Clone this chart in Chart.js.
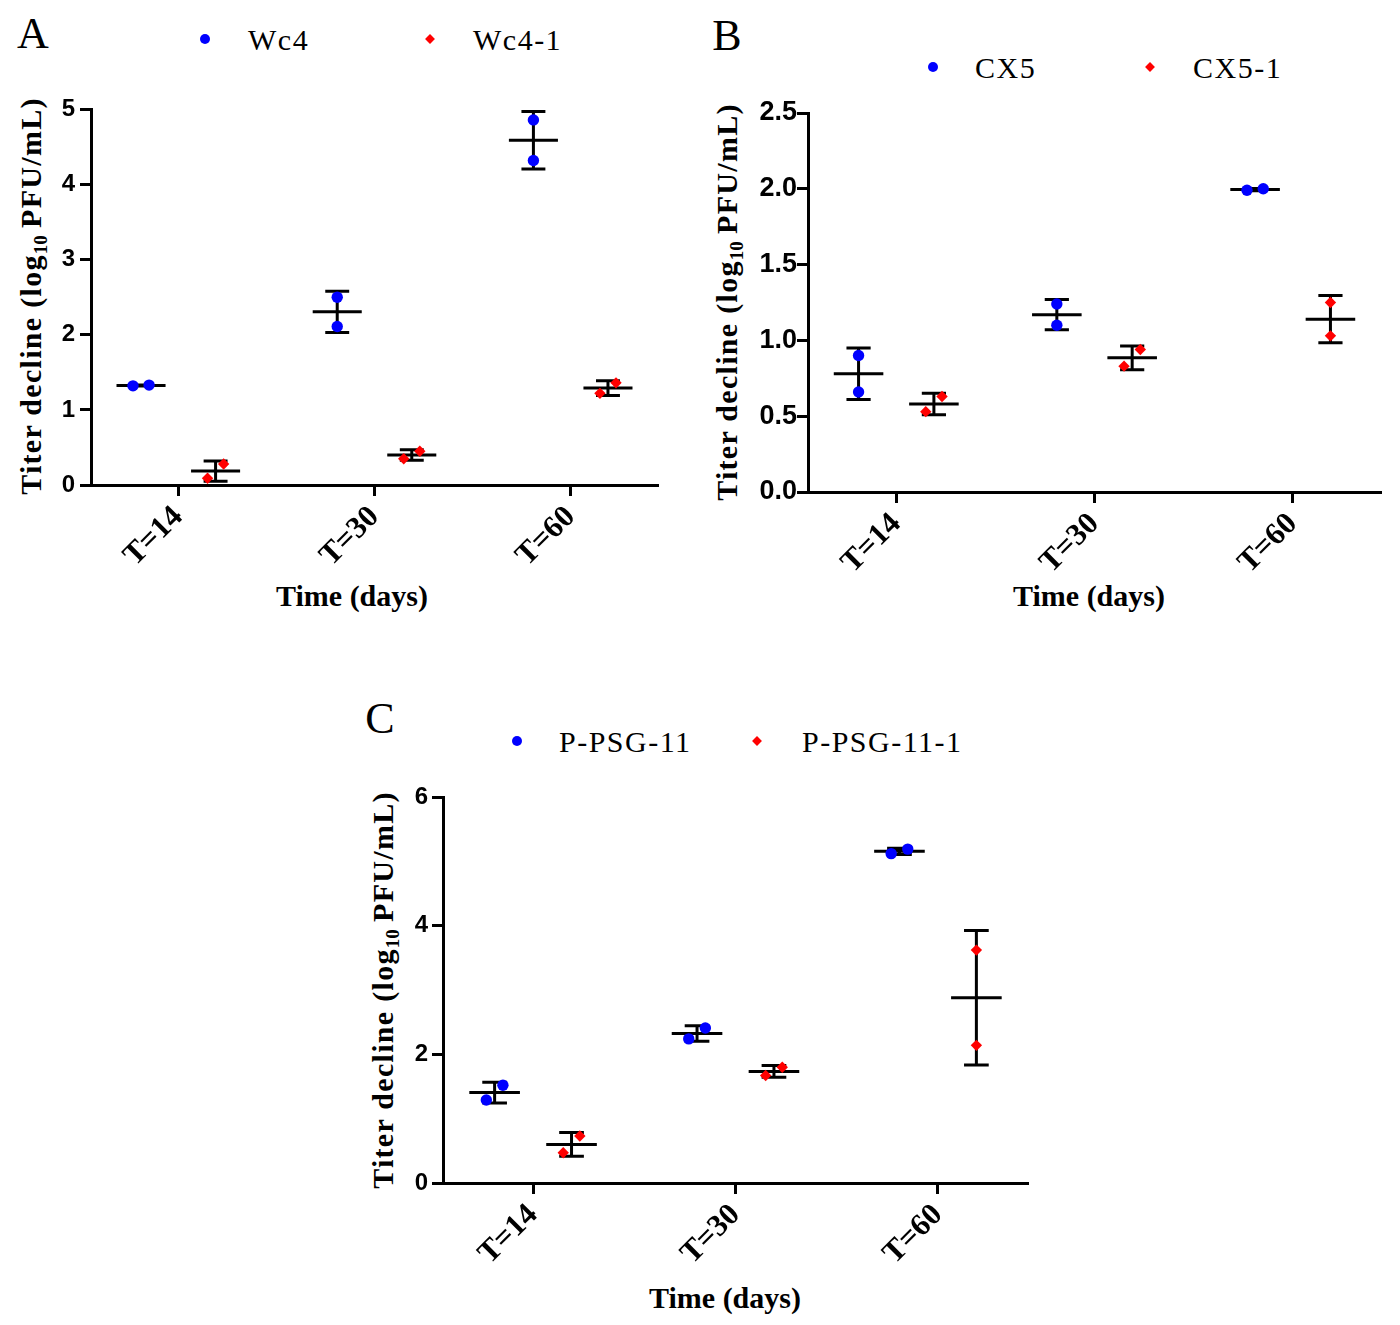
<!DOCTYPE html>
<html>
<head>
<meta charset="utf-8">
<script src="https://cdn.jsdelivr.net/npm/chart.js@4.4.1/dist/chart.umd.min.js"></script>
<style>
  body { margin: 0; background: #fff; }
  #page { position: relative; width: 1400px; height: 1325px; overflow: hidden;
          font-family: "Liberation Serif", "Times New Roman", serif; color: #000; }
  canvas { position: absolute; }
  .ctr { position: absolute; transform: translate(-50%, -50%); white-space: nowrap; line-height: 1; }
  .letter { font-size: 44px; }
  .leg { position: absolute; font-size: 30px; letter-spacing: 1.5px; white-space: nowrap;
         line-height: 1; transform: translateY(-50%); }
  .dot { position: absolute; width: 10px; height: 10px; border-radius: 50%; background: #0000ff;
         transform: translate(-50%, -50%); }
  .dia { position: absolute; width: 7px; height: 7px; background: #ff0000;
         transform: translate(-50%, -50%) rotate(45deg); }
  .ytitle { position: absolute; font-size: 30px; font-weight: bold; letter-spacing: 1.3px; white-space: nowrap;
            line-height: 1; transform: translate(-50%, -50%) rotate(-90deg); }
  .ytitle sub { font-size: 19px; vertical-align: -6px; line-height: 0; letter-spacing: 0; }
  .xtitle { font-size: 30px; font-weight: bold; }
</style>
</head>
<body>
<div id="page"></div>
<script>
// ---- data (two replicate titer declines per time point) ----
const categories = ["T=14", "T=30", "T=60"];

const namesA = ["Wc4", "Wc4-1"];
const wc4   = [[1.32, 1.33], [2.50, 2.11], [4.86, 4.32]];
const wc4_1 = [[0.09, 0.28], [0.35, 0.45], [1.22, 1.36]];
const yTicksA = [0, 1, 2, 3, 4, 5];

const namesB = ["CX5", "CX5-1"];
const cx5   = [[0.90, 0.66], [1.24, 1.10], [1.99, 2.00]];
const cx5_1 = [[0.53, 0.63], [0.83, 0.94], [1.25, 1.03]];
const yTicksB = [0, 0.5, 1, 1.5, 2, 2.5];

const namesC = ["P-PSG-11", "P-PSG-11-1"];
const ppsg11   = [[1.29, 1.52], [2.24, 2.41], [5.12, 5.19]];
const ppsg11_1 = [[0.47, 0.73], [1.67, 1.80], [3.62, 2.14]];
const yTicksC = [0, 2, 4, 6];

const BLUE = "#0000ff";
const RED = "#ff0000";

// group offsets around each time tick, in category units
const SHIFT = 0.19;
const JITTER = 0.041;
const MEAN_HALF = 0.125;
const CAP_HALF = 0.061;

const mean = v => v.reduce((a, b) => a + b, 0) / v.length;
const sd = v => {
  const m = mean(v);
  return Math.sqrt(v.reduce((a, b) => a + (b - m) * (b - m), 0) / (v.length - 1));
};

// scatter points; near-equal replicates are spread sideways like a dot plot
function buildPoints(reps, shift, yMax) {
  const pts = [];
  reps.forEach((vals, i) => {
    const s = [...vals].sort((a, b) => a - b);
    const close = s[s.length - 1] - s[0] < 0.05 * yMax;
    s.forEach((v, k) => {
      const j = close ? (k === 0 ? -JITTER : JITTER) : 0;
      pts.push({ x: i + shift + j, y: v });
    });
  });
  return pts;
}

// mean line + SD whiskers, drawn under the dots
function meanSdPlugin(groups) {
  return {
    id: "meanSd",
    beforeDatasetsDraw(chart) {
      const { ctx, scales: { x, y } } = chart;
      ctx.save();
      ctx.strokeStyle = "#000";
      ctx.lineWidth = 3;
      ctx.lineCap = "butt";
      groups.forEach(g => {
        g.reps.forEach((vals, i) => {
          const c = i + g.shift;
          const m = mean(vals), s = sd(vals);
          const yM = y.getPixelForValue(m);
          const yHi = y.getPixelForValue(m + s);
          const yLo = y.getPixelForValue(m - s);
          ctx.beginPath();
          ctx.moveTo(x.getPixelForValue(c - MEAN_HALF), yM);
          ctx.lineTo(x.getPixelForValue(c + MEAN_HALF), yM);
          ctx.moveTo(x.getPixelForValue(c), yHi);
          ctx.lineTo(x.getPixelForValue(c), yLo);
          ctx.moveTo(x.getPixelForValue(c - CAP_HALF), yHi);
          ctx.lineTo(x.getPixelForValue(c + CAP_HALF), yHi);
          ctx.moveTo(x.getPixelForValue(c - CAP_HALF), yLo);
          ctx.lineTo(x.getPixelForValue(c + CAP_HALF), yLo);
          ctx.stroke();
        });
      });
      ctx.restore();
    }
  };
}

const page = document.getElementById("page");

function addEl(cls, html, style) {
  const d = document.createElement("div");
  d.className = cls;
  d.innerHTML = html;
  Object.assign(d.style, style);
  page.appendChild(d);
  return d;
}

function makePanel(p) {
  // panel letter, legend and axis titles
  addEl("ctr letter", p.letter, { left: p.letterAt[0] + "px", top: p.letterAt[1] + "px" });
  addEl("dot", "", { left: p.legend[0].mark + "px", top: p.legendY + "px" });
  addEl("leg", p.names[0], { left: p.legend[0].text + "px", top: (p.legendY + 1) + "px" });
  addEl("dia", "", { left: p.legend[1].mark + "px", top: p.legendY + "px" });
  addEl("leg", p.names[1], { left: p.legend[1].text + "px", top: (p.legendY + 1) + "px" });
  addEl("ytitle", "Titer decline (log<sub>10</sub>&thinsp;PFU/mL)",
        { left: p.yTitleAt[0] + "px", top: p.yTitleAt[1] + "px" });
  addEl("ctr xtitle", "Time (days)", { left: p.xTitleAt[0] + "px", top: p.xTitleAt[1] + "px" });

  const cv = document.createElement("canvas");
  cv.width = p.box.w;
  cv.height = p.box.h;
  cv.style.left = p.box.x + "px";
  cv.style.top = p.box.y + "px";
  page.appendChild(cv);

  const yMax = p.yTicks[p.yTicks.length - 1];

  new Chart(cv.getContext("2d"), {
    type: "scatter",
    data: {
      datasets: [
        {
          label: p.names[0],
          data: buildPoints(p.series[0], -SHIFT, yMax),
          pointStyle: "circle",
          pointRadius: 5.7,
          backgroundColor: BLUE,
          borderColor: BLUE,
          pointBorderWidth: 0
        },
        {
          label: p.names[1],
          data: buildPoints(p.series[1], SHIFT, yMax),
          pointStyle: "rectRot",
          pointRadius: 5.7,
          backgroundColor: RED,
          borderColor: RED,
          pointBorderWidth: 0
        }
      ]
    },
    options: {
      responsive: false,
      animation: false,
      devicePixelRatio: 1,
      layout: { padding: { left: 0, top: p.padTop, right: p.padRight, bottom: 0 } },
      plugins: { legend: { display: false }, tooltip: { enabled: false } },
      scales: {
        x: {
          type: "linear",
          min: -0.445,
          max: 2.445,
          afterBuildTicks: s => { s.ticks = categories.map((c, i) => ({ value: i })); },
          afterFit: s => { s.height = p.xH; },
          ticks: {
            callback: v => categories[v],
            autoSkip: false,
            minRotation: 45,
            maxRotation: 45,
            padding: 3,
            color: "#000",
            font: { family: "'Liberation Serif', serif", size: 31, weight: "bold" }
          },
          grid: { display: true, drawOnChartArea: false, drawTicks: true, tickLength: 11,
                  tickWidth: 3, tickColor: "#000" },
          border: { display: true, color: "#000", width: 3 }
        },
        y: {
          min: 0,
          max: yMax,
          afterBuildTicks: s => { s.ticks = p.yTicks.map(v => ({ value: v })); },
          afterFit: s => { s.width = p.yW; },
          ticks: {
            callback: v => p.yDigits ? v.toFixed(p.yDigits) : String(v),
            padding: p.yPad,
            color: "#000",
            font: { family: "'Liberation Sans', Arial, sans-serif", size: p.yFont, weight: "bold" }
          },
          grid: { display: true, drawOnChartArea: false, drawTicks: true, tickLength: 11,
                  tickWidth: 3, tickColor: "#000" },
          border: { display: true, color: "#000", width: 3 }
        }
      }
    },
    plugins: [meanSdPlugin([
      { reps: p.series[0], shift: -SHIFT },
      { reps: p.series[1], shift: SHIFT }
    ])]
  });
}

makePanel({
  letter: "A", letterAt: [33, 34],
  names: namesA, series: [wc4, wc4_1], yTicks: yTicksA, yDigits: 0,
  legendY: 39, legend: [{ mark: 205, text: 248 }, { mark: 430, text: 473 }],
  yTitleAt: [31, 296], xTitleAt: [352, 596],
  box: { x: 0, y: 90, w: 700, h: 560 }, yW: 91, padTop: 18, padRight: 42, xH: 165,
  yFont: 24, yPad: 5
});

makePanel({
  letter: "B", letterAt: [727, 36],
  names: namesB, series: [cx5, cx5_1], yTicks: yTicksB, yDigits: 1,
  legendY: 67, legend: [{ mark: 933, text: 975 }, { mark: 1150, text: 1193 }],
  yTitleAt: [727, 302], xTitleAt: [1089, 596],
  box: { x: 700, y: 90, w: 700, h: 560 }, yW: 108, padTop: 23, padRight: 19, xH: 158,
  yFont: 27, yPad: 0
});

makePanel({
  letter: "C", letterAt: [380, 719],
  names: namesC, series: [ppsg11, ppsg11_1], yTicks: yTicksC, yDigits: 0,
  legendY: 741, legend: [{ mark: 517, text: 559 }, { mark: 757, text: 802 }],
  yTitleAt: [383, 990], xTitleAt: [725, 1298],
  box: { x: 340, y: 775, w: 720, h: 550 }, yW: 103, padTop: 22, padRight: 32, xH: 142,
  yFont: 24, yPad: 4
});
</script>
</body>
</html>
